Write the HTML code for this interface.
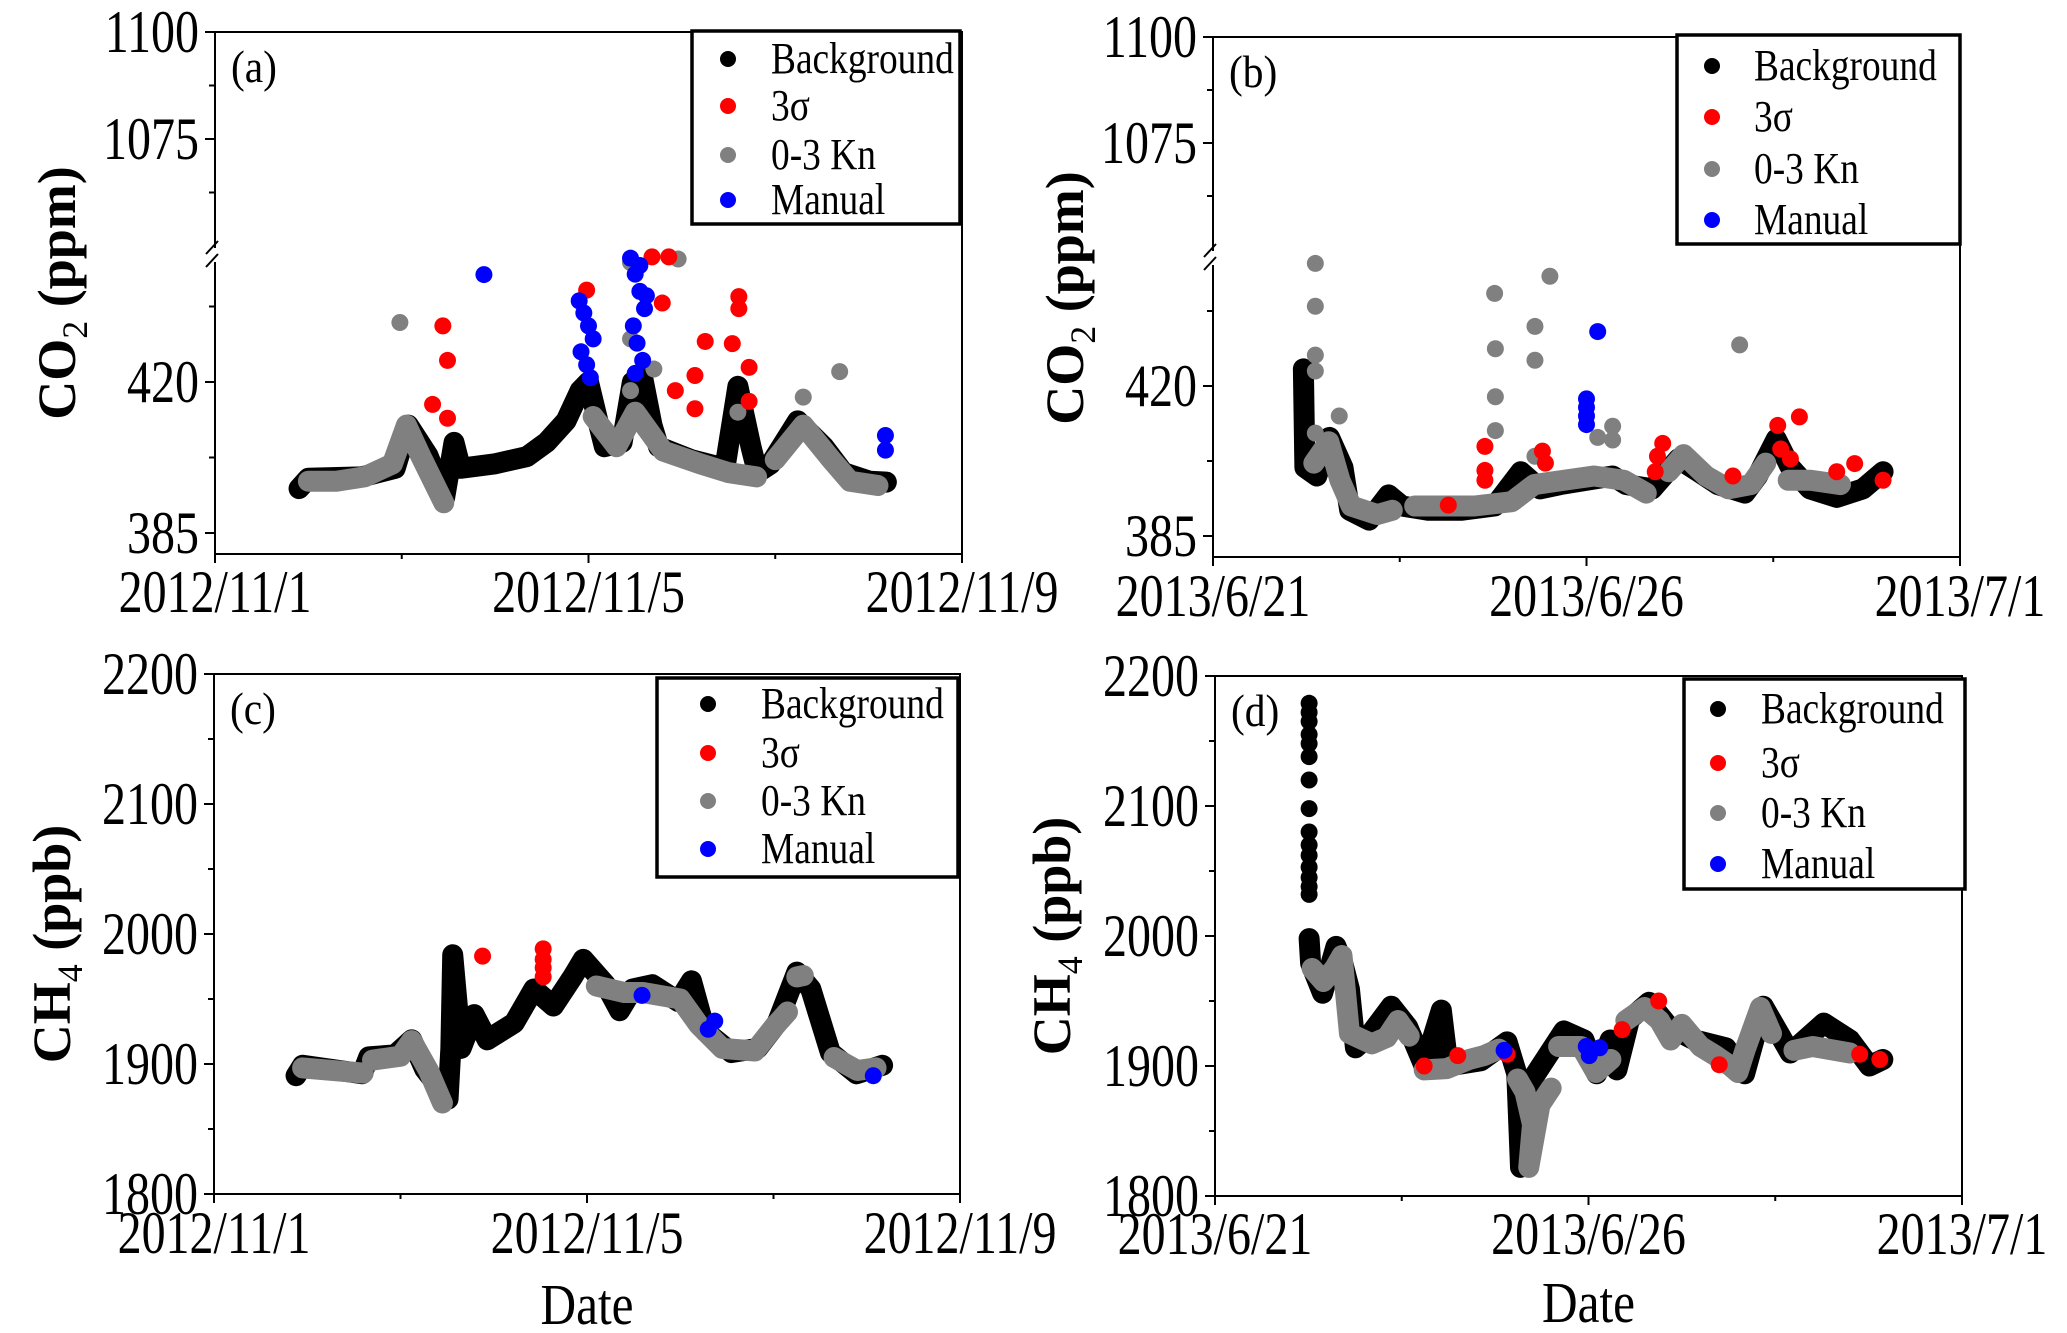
<!DOCTYPE html>
<html><head><meta charset="utf-8"><style>
html,body{margin:0;padding:0;background:#fff;overflow:hidden}
svg{display:block}
text{font-family:"Liberation Serif",serif;fill:#000}
</style></head><body>
<svg id="fig" width="2067" height="1333" viewBox="0 0 2067 1333" xmlns="http://www.w3.org/2000/svg"></svg>
<script>
// ---------- DATA ----------
// Panel (a) CO2 Nov 2012 (x = days since 2012/11/1)
const aBgX=[0.9,1.0,1.57,1.93,2.07,2.28,2.46,2.56,2.63,2.99,3.34,3.55,3.76,3.91,4.0,4.1,4.17,4.36,4.47,4.58,4.68,4.75,5.1,5.46,5.6,5.74,5.81,5.95,6.24,6.52,6.73,7.01,7.19];
const aBgY=[395.3,397.7,398,400,410,403,393.3,406,400,401,402.7,406,411,418,420,411,405,406,420,421,410,405,402,400,419,405,399,401,411,405,399,397,396.8];
const aKnSegX=[[1.0,1.3,1.6,1.9,2.05,2.2,2.45],[4.05,4.3,4.5,4.8,5.2,5.5,5.8],[6.0,6.3,6.6,6.8,7.1]];
const aKnSegY=[[397,397,398,401,410,403,392],[412,405,413,404,401,399,398],[402,410,402,397,396]];
const aKnX=[1.98,6.69,4.96,4.45,4.45,4.7,6.3,4.45,5.6];
const aKnY=[433.8,422.4,448.5,447.7,430,423,416.5,418,413];
const aSigX=[2.44,2.49,2.33,2.49,3.98,4.79,5.25,5.14,5.54,5.61,5.61,5.72,4.93,5.14,4.86,4.68,5.72];
const aSigY=[433,425,414.8,411.6,441.3,438.3,429.4,421.5,428.9,439.8,437,423.4,418,413.8,449,449,415.5];
const aManX=[2.88,3.9,3.95,4.0,4.05,3.92,3.98,4.02,4.45,4.5,4.55,4.6,4.48,4.52,4.58,4.5,4.55,4.62,7.18,7.18];
const aManY=[444.9,438.8,436,433,430,427,424,421,448.7,445,441,437,433,429,425,422,447,440,407.6,404.2];
// Panel (b) CO2 Jun 2013 (x = days since 2013/6/21)
const bBgX=[1.21,1.23,1.39,1.56,1.74,1.83,2.09,2.35,2.53,2.88,3.32,3.77,4.12,4.38,4.65,5.0,5.35,5.53,5.88,6.23,6.5,6.76,7.12,7.29,7.54,7.73,7.99,8.35,8.7,8.97];
const bBgY=[424,401,399,408,401,391,388.7,394.6,392,391,391,392,400,396,397,398,399,397,396,403,400,397,395,399,407.6,401,396,394,396,400];
const bKnSegX=[[1.35,1.55,1.7,1.85,2.2,2.4],[2.7,3.5,4.0,4.3,4.7,5.1,5.5,5.8],[6.1,6.3,6.6,6.9,7.2,7.4],[7.7,8.0,8.4]];
const bKnSegY=[[402,407,398,392,390,391],[392,392,393,397,398,399,398,395],[400,404,399,396,397,402],[398,398,397]];
const bKnX=[1.37,1.37,1.37,1.37,1.69,1.37,3.77,3.78,3.78,3.78,4.31,4.31,4.51,7.05,5.35,5.35,5.15,4.31];
const bKnY=[448.6,438.6,427.2,423.5,413,409,441.6,428.7,417.5,409.6,433.9,426,445.6,429.6,410.6,407.4,408,403.6];
const bSigX=[3.64,3.64,3.64,7.85,7.56,7.6,7.73,6.02,5.95,5.92,4.41,4.45,8.59,8.35,8.97,6.96,3.15];
const bSigY=[405.9,400.3,398,412.8,410.8,405.3,403,406.6,403.6,400,404.8,402,401.9,400,398,399,392.2];
const bManX=[5.15,5.0,5.0,5.0,5.0];
const bManY=[432.7,417,415,413,411];
// Panel (c) CH4 Nov 2012
const cBgX=[0.88,0.95,1.59,1.66,1.94,2.12,2.26,2.51,2.54,2.56,2.65,2.79,2.93,3.22,3.43,3.64,3.85,3.96,4.2,4.35,4.49,4.7,4.98,5.12,5.27,5.55,5.83,6.04,6.25,6.4,6.61,6.89,7.17];
const cBgY=[1891,1899,1892.5,1905.5,1907,1918.6,1896,1873,1912,1984,1912,1938,1918.6,1931.6,1957.7,1944.6,1967.4,1980.5,1961,1941,1957.7,1961,1948,1964,1925,1908.8,1912,1931.6,1970.7,1957.7,1908.8,1892.5,1899];
const cKnSegX=[[0.95,1.6],[1.7,2.0,2.12,2.3,2.45],[4.1,4.4,4.6,5.0,5.2,5.45,5.8,6.0,6.15],[6.25,6.32],[6.65,6.9,7.1]];
const cKnSegY=[[1897,1893],[1903,1906,1918,1895,1870],[1960,1955,1955,1950,1930,1912,1910,1928,1940],[1967,1968],[1905,1895,1897]];
const cSigX=[2.88,3.53,3.53,3.53,3.53];
const cSigY=[1983,1988.6,1980.5,1974,1967];
const cManX=[4.59,5.37,5.3,7.07];
const cManY=[1952.8,1933,1926.7,1891];
// Panel (d) CH4 Jun 2013
const dSpikeX=[1.26,1.26,1.26,1.26,1.26,1.26,1.26,1.26,1.26,1.26,1.26,1.26,1.26,1.26,1.26];
const dSpikeY=[2179,2172,2165,2155,2148,2138,2120,2098,2080,2070,2062,2053,2045,2038,2032];
const dBgX=[1.26,1.28,1.44,1.62,1.71,1.8,1.88,2.06,2.36,2.58,2.8,3.03,3.12,3.56,3.91,4.04,4.09,4.26,4.67,4.94,5.11,5.29,5.38,5.55,5.81,6.08,6.42,6.84,7.09,7.34,7.7,8.15,8.5,8.76,8.94];
const dBgY=[1998,1979,1956,1992,1979,1959,1914,1923,1946,1930,1900,1943,1900,1904,1918.6,1894,1822,1891,1927,1920,1894,1920,1897,1936,1949,1930,1920,1914,1894,1946,1910,1933,1920,1900,1905];
const dKnSegX=[[1.3,1.45,1.6,1.7,1.8,2.1,2.3,2.45,2.6],[2.8,3.1,3.4,3.6,3.8],[4.05,4.15,4.25,4.2,4.35,4.5],[4.6,4.9,5.1,5.3],[5.5,5.75,5.95,6.1,6.25,6.5,6.7,6.9,7.0,7.1,7.3,7.45],[7.75,8.0,8.3,8.5]];
const dKnSegY=[[1975,1965,1975,1985,1925,1917,1922,1935,1923],[1897,1898,1905,1908,1913],[1890,1880,1855,1822,1870,1883],[1915,1915,1895,1905],[1935,1945,1935,1920,1932,1915,1908,1900,1895,1913,1945,1925],[1912,1915,1912,1910]];
const dSigX=[5.45,5.94,6.75,8.63,8.9,3.25,2.8,3.91];
const dSigY=[1928,1950,1901,1909,1905,1908,1900,1909];
const dManX=[3.87,4.97,5.01,5.15];
const dManY=[1912,1915,1908,1914];
// Tick labels
const novTickLabels=["2012/11/1","2012/11/5","2012/11/9"];
const junTickLabels=["2013/6/21","2013/6/26","2013/7/1"];
const co2TickVals=[1100,1075,420,385];
const ch4TickVals=[1800,1900,2000,2100,2200];
const legendLabels=["Background","3σ","0-3 Kn","Manual"];
const legendColors=["#000","#f00","#808080","#00f"];

// ---------- DRAW ----------
const NS="http://www.w3.org/2000/svg";
const svg=document.getElementById('fig');
function el(tag,attrs,parent){const e=document.createElementNS(NS,tag);for(const k in attrs)e.setAttribute(k,attrs[k]);(parent||svg).appendChild(e);return e;}
function txt(s,x,y,size,anchor,parent,sx){const t=el('text',{x:0,y:0,'font-size':size,'text-anchor':anchor||'start',transform:`translate(${x},${y}) scale(${sx||0.92},1)`},parent);t.textContent=s;return t;}

function makePanel(cfg){
  const g=el('g',{});
  
  
  const {L,R,T,B}=cfg;
  const xs=d=>L+(d/cfg.xmax)*(R-L);
  const ys=cfg.ys;
  const fr=el('rect',{x:L,y:T,width:R-L,height:B-T,fill:'none',stroke:'#000','stroke-width':2},g);
  
  if(cfg.breakY){
    el('rect',{x:L-4,y:cfg.breakY-7,width:8,height:14,fill:'#fff'},g);
    el('line',{x1:L-9,y1:cfg.breakY-1,x2:L+3,y2:cfg.breakY-14,stroke:'#000','stroke-width':2},g);
    el('line',{x1:L-9,y1:cfg.breakY+12,x2:L+3,y2:cfg.breakY-1,stroke:'#000','stroke-width':2},g);
  }
  const yax=el('g',{},g);
  cfg.yTicks.forEach(v=>{const y=ys(v);el('line',{x1:L-10,y1:y,x2:L,y2:y,stroke:'#000','stroke-width':2},yax);
    const t=txt(String(v),L-16,y+20,60,'end',yax,0.8);});
  cfg.yMinor.forEach(v=>{const y=ys(v);el('line',{x1:L-6,y1:y,x2:L,y2:y,stroke:'#000','stroke-width':2},yax);});
  const xax=el('g',{},g);
  cfg.xLabels.forEach((s,i)=>{const d=i*cfg.xmax/2,x=xs(d);el('line',{x1:x,y1:B,x2:x,y2:B+9,stroke:'#000','stroke-width':2},xax);
    const t=txt(s,x,cfg.xLabY,60,'middle',xax,0.8);});
  [cfg.xmax/4,3*cfg.xmax/4].forEach(d=>{const x=xs(d);el('line',{x1:x,y1:B,x2:x,y2:B+5,stroke:'#000','stroke-width':2},xax);});
  const yt=el('text',{x:0,y:0,'font-size':54,'font-weight':'bold','text-anchor':'middle',transform:`translate(${cfg.ytX},${cfg.ytY}) rotate(-90)`},g);
  
  yt.appendChild(document.createTextNode(cfg.yt1));
  const sub=el('tspan',{'font-size':36,'font-weight':'normal',dy:12},yt);sub.textContent=cfg.ytSub;
  const rest=el('tspan',{dy:-12},yt);rest.textContent=cfg.yt2;
  if(cfg.dateY){const dt=txt('Date',xs(cfg.xmax/2),cfg.dateY,58,'middle',g,0.85);}
  const pl=txt(cfg.letter,L+16,T+50,46,'start',g,0.9);
  const R0=8.5;
  function line(X,Y,color,name){const pts=X.map((d,i)=>xs(d)+','+ys(Y[i])).join(' ');
    const p=el('polyline',{points:pts,fill:'none',stroke:color,'stroke-width':2*R0+4,'stroke-linejoin':'round','stroke-linecap':'round'},g);
    }
  function dots(X,Y,color,name){const s=el('g',{},g);
    X.forEach((d,i)=>{const c=el('circle',{cx:xs(d),cy:ys(Y[i]),r:R0,fill:color},s);});}
  if(cfg.spikeX)dots(cfg.spikeX,cfg.spikeY,'#000','background-spike');
  line(cfg.bgX,cfg.bgY,'#000','background-series');
  cfg.knSegX.forEach((sx,i)=>line(sx,cfg.knSegY[i],'#808080','kn-series-segment'));
  if(cfg.knX)dots(cfg.knX,cfg.knY,'#808080','kn-outliers');
  dots(cfg.sigX,cfg.sigY,'#f00','sigma-outliers');
  dots(cfg.manX,cfg.manY,'#00f','manual-flags');
  const lg=el('g',{},g);
  const lb=cfg.leg;
  el('rect',{x:lb.x1,y:lb.y1,width:lb.x2-lb.x1,height:lb.y2-lb.y1,fill:'#fff',stroke:'#000','stroke-width':3.5},lg);
  legendLabels.forEach((s,i)=>{const e=el('g',{},lg);
    el('circle',{cx:lb.mx,cy:lb.rows[i],r:8,fill:legendColors[i]},e);
    txt(s,lb.tx,lb.rows[i]+14,44,'start',e,0.85);});
}
function brokenY(y1100,y1075,y420,y385){const kU=(y1075-y1100)/25,kL=(y385-y420)/35;
  return v=>v>=900?y1100+(1100-v)*kU:y420+(420-v)*kL;}
function linY(vTop,yTop,vBot,yBot){return v=>yTop+(vTop-v)*(yBot-yTop)/(vTop-vBot);}

makePanel({name:'panel-a-co2-nov',L:215,R:962,T:32,B:554,xmax:8,ys:brokenY(32,139,382,533),breakY:255,
  yTicks:co2TickVals,yMinor:[1087.5,1062.5,437.5,402.5],xLabels:novTickLabels,xLabY:612,
  ytX:75,ytY:293,yt1:'CO',ytSub:'2',yt2:' (ppm)',letter:'(a)',
  bgX:aBgX,bgY:aBgY,knSegX:aKnSegX,knSegY:aKnSegY,knX:aKnX,knY:aKnY,sigX:aSigX,sigY:aSigY,manX:aManX,manY:aManY,
  leg:{x1:692,y1:31,x2:960,y2:224,mx:728,tx:771,rows:[59,106,155,200]}});
makePanel({name:'panel-b-co2-jun',L:1213,R:1960,T:37,B:557,xmax:10,ys:brokenY(37,143,386,536),breakY:258,
  yTicks:co2TickVals,yMinor:[1087.5,1062.5,437.5,402.5],xLabels:junTickLabels,xLabY:616,
  ytX:1083,ytY:298,yt1:'CO',ytSub:'2',yt2:' (ppm)',letter:'(b)',
  bgX:bBgX,bgY:bBgY,knSegX:bKnSegX,knSegY:bKnSegY,knX:bKnX,knY:bKnY,sigX:bSigX,sigY:bSigY,manX:bManX,manY:bManY,
  leg:{x1:1677,y1:35,x2:1960,y2:244,mx:1712,tx:1754,rows:[66,117,169,220]}});
makePanel({name:'panel-c-ch4-nov',L:214,R:960,T:674,B:1194,xmax:8,ys:linY(2200,674,1800,1194),
  yTicks:ch4TickVals,yMinor:[1850,1950,2050,2150],xLabels:novTickLabels,xLabY:1253,dateY:1324,
  ytX:70,ytY:944,yt1:'CH',ytSub:'4',yt2:' (ppb)',letter:'(c)',
  bgX:cBgX,bgY:cBgY,knSegX:cKnSegX,knSegY:cKnSegY,sigX:cSigX,sigY:cSigY,manX:cManX,manY:cManY,
  leg:{x1:657,y1:678,x2:958,y2:877,mx:708,tx:761,rows:[704,753,801,849]}});
makePanel({name:'panel-d-ch4-jun',L:1215,R:1962,T:676,B:1196,xmax:10,ys:linY(2200,676,1800,1196),
  yTicks:ch4TickVals,yMinor:[1850,1950,2050,2150],xLabels:junTickLabels,xLabY:1254,dateY:1322,
  ytX:1070,ytY:936,yt1:'CH',ytSub:'4',yt2:' (ppb)',letter:'(d)',
  spikeX:dSpikeX,spikeY:dSpikeY,
  bgX:dBgX,bgY:dBgY,knSegX:dKnSegX,knSegY:dKnSegY,sigX:dSigX,sigY:dSigY,manX:dManX,manY:dManY,
  leg:{x1:1684,y1:679,x2:1965,y2:889,mx:1718,tx:1761,rows:[709,763,813,864]}});
</script>
</body></html>
